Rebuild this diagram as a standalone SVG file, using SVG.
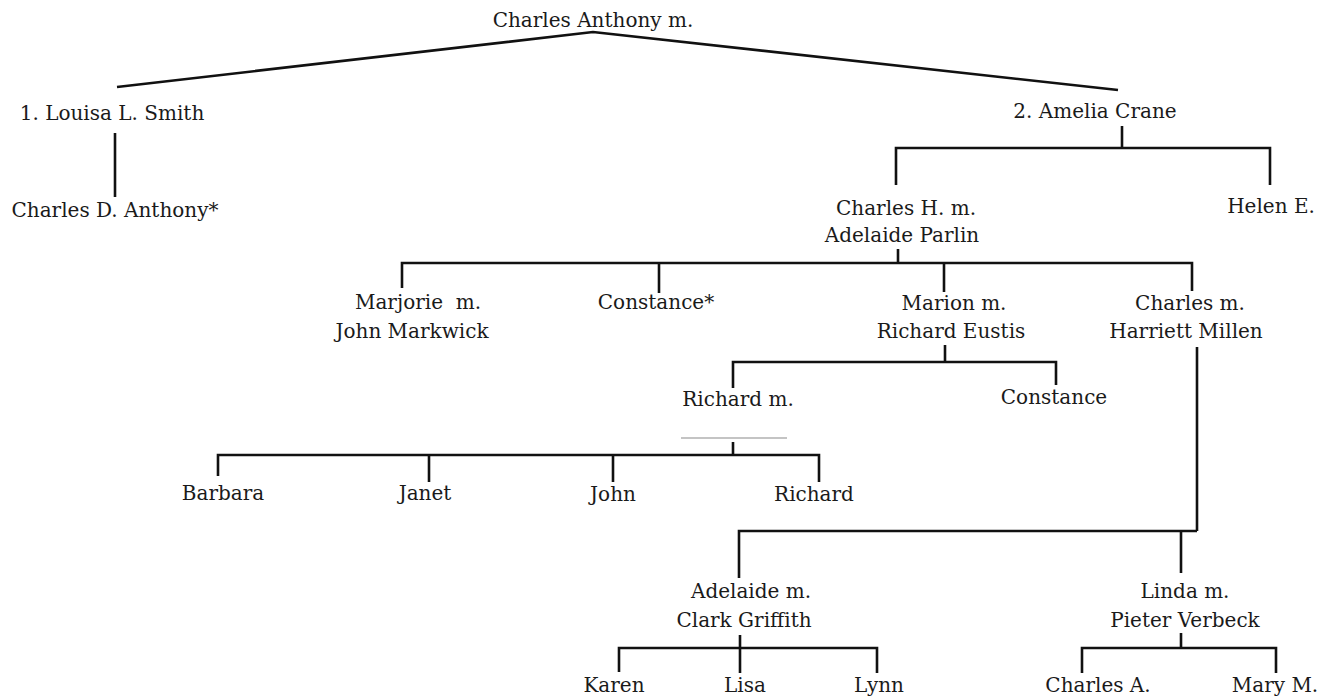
<svg xmlns="http://www.w3.org/2000/svg" width="1337" height="700" viewBox="0 0 1337 700">
<style>
text{font-family:"DejaVu Serif","Liberation Serif",serif;font-size:20px;fill:#1a1a1a;text-anchor:middle}
.c line,.c polyline{stroke:#111;stroke-width:2.6;fill:none}
.c .thin{stroke:#8a8a8a;stroke-width:1.2}
</style>
<rect width="1337" height="700" fill="#fff"/>
<g class="c" id="connectors">
<polyline points="117,87 593,32 1118,90"/>
<line x1="115" y1="133" x2="115" y2="197"/>
<line x1="1122" y1="126" x2="1122" y2="148"/>
<polyline points="896,185 896,148 1270,148 1270,185"/>
<line x1="898" y1="249" x2="898" y2="263"/>
<polyline points="402,288 402,263 1192,263 1192,291"/>
<line x1="659" y1="263" x2="659" y2="293"/>
<line x1="944" y1="263" x2="944" y2="292"/>
<line x1="945" y1="345" x2="945" y2="362"/>
<polyline points="733,388 733,362 1056,362 1056,385"/>
<line class="thin" x1="681" y1="438" x2="787" y2="438"/>
<line x1="733" y1="442" x2="733" y2="455"/>
<polyline points="218,476 218,455 819,455 819,482"/>
<line x1="429" y1="455" x2="429" y2="482"/>
<line x1="613" y1="455" x2="613" y2="482"/>
<line x1="1197" y1="347" x2="1197" y2="531"/>
<polyline points="739,578 739,531 1197,531"/>
<line x1="1181" y1="531" x2="1181" y2="573"/>
<line x1="740" y1="635" x2="740" y2="673"/>
<polyline points="619,672 619,648 877,648 877,673"/>
<line x1="1181" y1="633" x2="1181" y2="648"/>
<polyline points="1082,673 1082,648 1276,648 1276,673"/>
</g>
<g id="n-charles-anthony"><text x="593" y="27">Charles Anthony m.</text></g>
<g id="n-louisa"><text x="112" y="120">1. Louisa L. Smith</text></g>
<g id="n-charles-d"><text x="115" y="217">Charles D. Anthony*</text></g>
<g id="n-amelia"><text x="1095" y="118">2. Amelia Crane</text></g>
<g id="n-charles-h"><text x="906" y="215">Charles H. m.</text><text x="902" y="242">Adelaide Parlin</text></g>
<g id="n-helen"><text x="1271" y="213">Helen E.</text></g>
<g id="n-marjorie"><text x="418" y="309" xml:space="preserve">Marjorie  m.</text><text x="412" y="338">John Markwick</text></g>
<g id="n-constance1"><text x="656" y="309">Constance*</text></g>
<g id="n-marion"><text x="954" y="310">Marion m.</text><text x="951" y="338">Richard Eustis</text></g>
<g id="n-charles"><text x="1190" y="310">Charles m.</text><text x="1186" y="338">Harriett Millen</text></g>
<g id="n-richard"><text x="738" y="406">Richard m.</text></g>
<g id="n-constance2"><text x="1054" y="404">Constance</text></g>
<g id="n-barbara"><text x="223" y="500">Barbara</text></g>
<g id="n-janet"><text x="425" y="500">Janet</text></g>
<g id="n-john"><text x="613" y="501">John</text></g>
<g id="n-richard2"><text x="814" y="501">Richard</text></g>
<g id="n-adelaide"><text x="751" y="598">Adelaide m.</text><text x="744" y="627">Clark Griffith</text></g>
<g id="n-linda"><text x="1185" y="598">Linda m.</text><text x="1185" y="627">Pieter Verbeck</text></g>
<g id="n-karen"><text x="614" y="692">Karen</text></g>
<g id="n-lisa"><text x="745" y="692">Lisa</text></g>
<g id="n-lynn"><text x="879" y="692">Lynn</text></g>
<g id="n-charles-a"><text x="1098" y="692">Charles A.</text></g>
<g id="n-mary"><text x="1275" y="692">Mary M.</text></g>
</svg>
